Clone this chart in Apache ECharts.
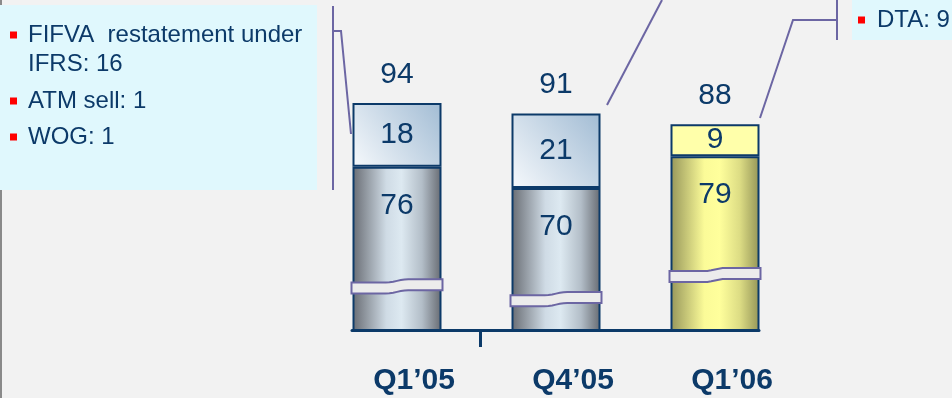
<!DOCTYPE html>
<html>
<head>
<meta charset="utf-8">
<script src="https://cdn.jsdelivr.net/npm/echarts@6.0.0/dist/echarts.min.js"></script>
<style>
  html, body { margin: 0; padding: 0; background: #f2f2f2; }
  #chart { width: 952px; height: 398px; }
</style>
</head>
<body>
<div id="chart"></div>
<script>
// Quarterly figures: base block plus the one-off items stacked on top
const categories = ['Q1\u201905', 'Q4\u201905', 'Q1\u201906'];
const baseValues = [76, 70, 79];
const addValues = [18, 21, 9];
// where the scale-break band is drawn across each bar (value units)
const breakAt = [42.3, 38.7, 45.5];
// annotation texts
const leftNotes = ['FIFVA  restatement under', 'IFRS: 16', 'ATM sell: 1', 'WOG: 1'];
const rightNotes = ['DTA: 9'];

const totals = baseValues.map((v, i) => v + addValues[i]);

const NAVY = '#0c3a69';
const FONT = '"Liberation Sans", Arial, sans-serif';
const LINE = '#6c66a3';
const BOX = '#e0f8fd';
const BAR_W = 89;

const grayGrad = {
  type: 'linear', x: 0, y: 0, x2: 1, y2: 0,
  colorStops: [
    { offset: 0, color: '#686c73' },
    { offset: 0.38, color: '#cfdbe5' },
    { offset: 0.55, color: '#dde9f1' },
    { offset: 0.78, color: '#b3bec8' },
    { offset: 1, color: '#666a71' }
  ]
};
const yellowGrad = {
  type: 'linear', x: 0, y: 0, x2: 1, y2: 0,
  colorStops: [
    { offset: 0, color: '#96965a' },
    { offset: 0.38, color: '#fbfb98' },
    { offset: 0.55, color: '#ffff9c' },
    { offset: 0.78, color: '#dcdc84' },
    { offset: 1, color: '#949457' }
  ]
};
const paleBlueGrad = {
  type: 'linear', x: 0, y: 1, x2: 1, y2: 0,
  colorStops: [
    { offset: 0, color: '#f6f9fc' },
    { offset: 1, color: '#a2bcd4' }
  ]
};

const baseColors = [grayGrad, grayGrad, yellowGrad];
const addColors = [paleBlueGrad, paleBlueGrad, '#ffffaa'];

const labelText = { color: NAVY, fontFamily: FONT, fontSize: 30 };

function smoothstep(t) {
  t = Math.max(0, Math.min(1, t));
  return t * t * (3 - 2 * t);
}

// white wavy band marking the broken scale
function renderBreak(params, api) {
  const c = api.coord([api.value(0), api.value(1)]);
  const w = BAR_W + 2, h = 11, s = 1.6;
  const xl = c[0] - w / 2;
  const top = [], bottom = [];
  const n = 24;
  for (let k = 0; k <= n; k++) {
    const t = k / n;
    const off = s * (1 - 2 * smoothstep((t - 0.38) / 0.24));
    top.push([xl + t * w, c[1] - h / 2 + off]);
    bottom.push([xl + t * w, c[1] + h / 2 + off]);
  }
  return {
    type: 'polygon',
    shape: { points: top.concat(bottom.reverse()) },
    style: { fill: '#ececec', stroke: LINE, lineWidth: 2 }
  };
}

const graphics = [
  // slide edge
  { type: 'line', shape: { x1: 1, y1: 0, x2: 1, y2: 398 }, style: { stroke: '#8a8a8a', lineWidth: 2 }, z: 1 },
  // left note box
  { type: 'rect', shape: { x: 0, y: 5, width: 317, height: 185 }, style: { fill: BOX }, z: 2 },
  // right note box
  { type: 'rect', shape: { x: 852, y: 0, width: 100, height: 40 }, style: { fill: BOX }, z: 2 },
  // left bracket and pointer
  { type: 'line', shape: { x1: 333, y1: 6, x2: 333, y2: 190 }, style: { stroke: LINE, lineWidth: 2 }, z: 3 },
  { type: 'polyline', shape: { points: [[333, 31], [341, 31], [351, 134]] }, style: { stroke: LINE, lineWidth: 2, fill: null }, z: 3 },
  // pointer from the Q4'05 top block
  { type: 'line', shape: { x1: 607, y1: 105, x2: 662, y2: 0 }, style: { stroke: LINE, lineWidth: 2 }, z: 3 },
  // right bracket and pointer
  { type: 'polyline', shape: { points: [[760, 118], [793, 20], [837, 20]] }, style: { stroke: LINE, lineWidth: 2, fill: null }, z: 3 },
  { type: 'line', shape: { x1: 837, y1: 0, x2: 837, y2: 40 }, style: { stroke: LINE, lineWidth: 2 }, z: 3 }
];

// left note lines: [text, y, bullet?]
const leftRows = [
  [leftNotes[0], 35, true],
  [leftNotes[1], 64, false],
  [leftNotes[2], 101, true],
  [leftNotes[3], 137, true]
];
leftRows.forEach(([txt, y, bullet]) => {
  if (bullet) {
    graphics.push({ type: 'rect', shape: { x: 10, y: y - 3.5, width: 7, height: 7 }, style: { fill: '#ff0000' }, z: 4 });
  }
  graphics.push({
    type: 'text', x: 28, y: y, z: 4,
    style: { text: txt, fill: NAVY, font: '24px ' + FONT, verticalAlign: 'middle', align: 'left' }
  });
});
rightNotes.forEach((txt, i) => {
  const y = 20 + i * 30;
  graphics.push({ type: 'rect', shape: { x: 858, y: y - 3.5, width: 7, height: 7 }, style: { fill: '#ff0000' }, z: 4 });
  graphics.push({
    type: 'text', x: 877, y: y, z: 4,
    style: { text: txt, fill: NAVY, font: '24px ' + FONT, verticalAlign: 'middle', align: 'left' }
  });
});

const chart = echarts.init(document.getElementById('chart'), null, { renderer: 'canvas' });
chart.setOption({
  backgroundColor: '#f2f2f2',
  animation: false,
  grid: [
    // bars
    { left: 317.5, width: 477, top: 0, height: 330 },
    // baseline, spanning the outer edges of the bars
    { left: 352, width: 407, top: 0, height: 330 }
  ],
  xAxis: [
    {
      type: 'category', gridIndex: 0, data: categories, boundaryGap: true,
      axisLine: { show: false },
      axisTick: { show: false },
      axisLabel: {
        color: NAVY, fontFamily: FONT, fontSize: 30, fontWeight: 'bold',
        margin: 36, padding: [0, 0, 0, 34]
      }
    },
    {
      type: 'value', gridIndex: 1, min: 0, max: 1,
      splitLine: { show: false },
      axisLine: { show: true, onZero: false, lineStyle: { color: NAVY, width: 3 } },
      axisTick: { show: true, customValues: [0.315], length: 17, lineStyle: { color: NAVY, width: 3 } },
      axisLabel: { show: false }
    }
  ],
  yAxis: [
    { type: 'value', gridIndex: 0, min: 30, max: 123, show: false, splitLine: { show: false } },
    { type: 'value', gridIndex: 1, min: 0, max: 1, show: false, splitLine: { show: false } }
  ],
  series: [
    {
      type: 'bar', stack: 'q', barWidth: BAR_W,
      data: baseValues.map((v, i) => ({ value: v, itemStyle: { color: baseColors[i] } })),
      itemStyle: { borderColor: NAVY, borderWidth: 2 },
      label: { show: true, position: 'insideTop', distance: 24, ...labelText },
      z: 2
    },
    {
      type: 'bar', stack: 'q', barWidth: BAR_W,
      data: addValues.map((v, i) => ({ value: v, itemStyle: { color: addColors[i] } })),
      itemStyle: { borderColor: NAVY, borderWidth: 2 },
      label: { show: true, position: 'inside', ...labelText },
      z: 2
    },
    {
      type: 'scatter',
      data: totals,
      symbolSize: 1,
      itemStyle: { color: 'rgba(0,0,0,0)', opacity: 1 },
      label: { show: true, position: 'top', distance: 13, ...labelText },
      z: 3
    },
    {
      type: 'custom',
      data: breakAt.map((b, i) => [i, b]),
      renderItem: renderBreak,
      encode: { x: 0, y: 1 },
      clip: false,
      silent: true,
      z: 4
    }
  ],
  graphic: graphics
});
</script>
</body>
</html>
